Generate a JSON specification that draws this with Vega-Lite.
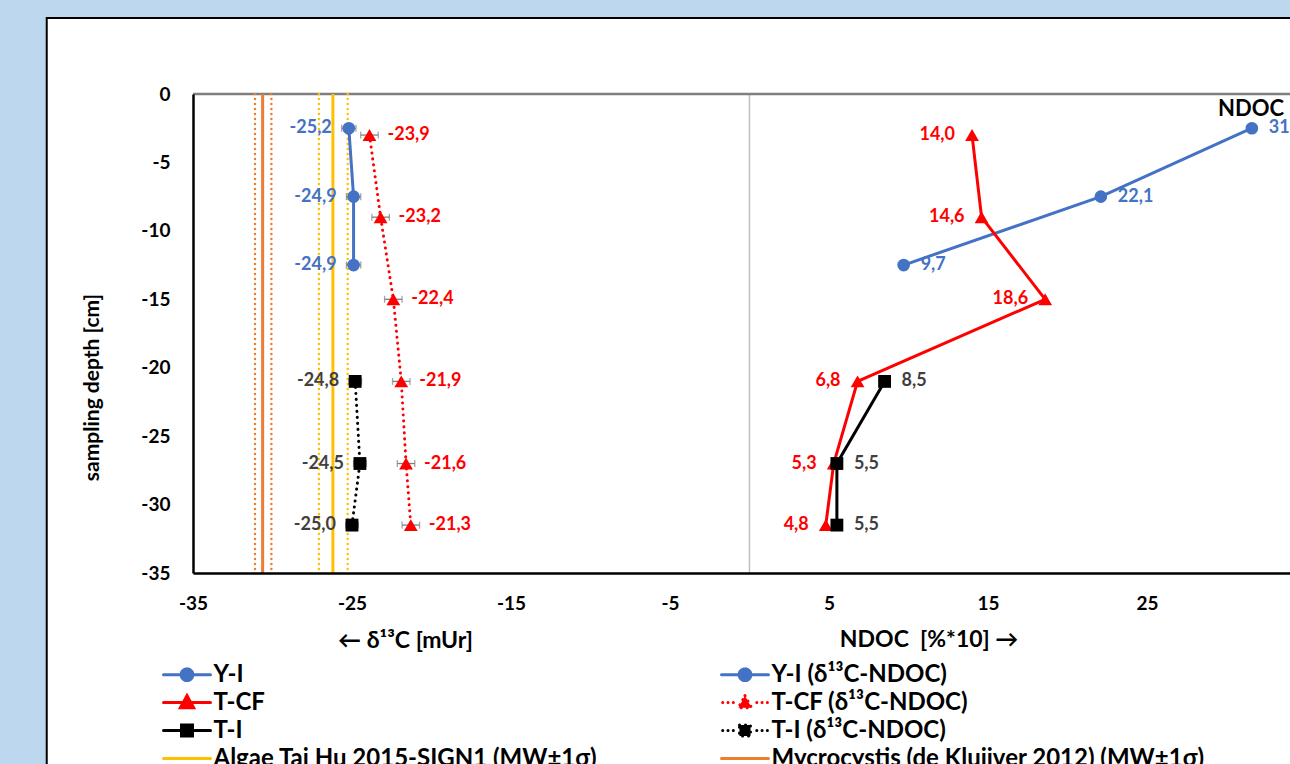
{
  "$schema": "https://vega.github.io/schema/vega-lite/v6.json",
  "width": 1097,
  "height": 479,
  "autosize": {"type": "none"},
  "padding": {"left": 193, "top": 94, "right": 0, "bottom": 191},
  "background": "#BDD7EE",
  "config": {
    "font": "Lato",
    "locale": {"number": {"decimal": ",", "thousands": ".", "grouping": [3], "currency": ["", ""], "minus": "-"}},
    "view": {"stroke": null, "fill": null}
  },
  "data": {
    "values": [
      {"series": "Y-I (δ¹³C-NDOC)", "group": "Y-I", "kind": "d13C", "depth": -2.5, "value": -25.2, "err": 0.45},
      {"series": "Y-I (δ¹³C-NDOC)", "group": "Y-I", "kind": "d13C", "depth": -7.5, "value": -24.9, "err": 0.45},
      {"series": "Y-I (δ¹³C-NDOC)", "group": "Y-I", "kind": "d13C", "depth": -12.5, "value": -24.9, "err": 0.45},
      {"series": "T-CF (δ¹³C-NDOC)", "group": "T-CF", "kind": "d13C", "depth": -3, "value": -23.9, "err": 0.55},
      {"series": "T-CF (δ¹³C-NDOC)", "group": "T-CF", "kind": "d13C", "depth": -9, "value": -23.2, "err": 0.55},
      {"series": "T-CF (δ¹³C-NDOC)", "group": "T-CF", "kind": "d13C", "depth": -15, "value": -22.4, "err": 0.55},
      {"series": "T-CF (δ¹³C-NDOC)", "group": "T-CF", "kind": "d13C", "depth": -21, "value": -21.9, "err": 0.55},
      {"series": "T-CF (δ¹³C-NDOC)", "group": "T-CF", "kind": "d13C", "depth": -27, "value": -21.6, "err": 0.55},
      {"series": "T-CF (δ¹³C-NDOC)", "group": "T-CF", "kind": "d13C", "depth": -31.5, "value": -21.3, "err": 0.55},
      {"series": "T-I (δ¹³C-NDOC)", "group": "T-I", "kind": "d13C", "depth": -21, "value": -24.8, "err": 0.4},
      {"series": "T-I (δ¹³C-NDOC)", "group": "T-I", "kind": "d13C", "depth": -27, "value": -24.5, "err": 0.4},
      {"series": "T-I (δ¹³C-NDOC)", "group": "T-I", "kind": "d13C", "depth": -31.5, "value": -25.0, "err": 0.4},
      {"series": "Y-I", "group": "Y-I", "kind": "NDOC", "depth": -2.5, "value": 31.6},
      {"series": "Y-I", "group": "Y-I", "kind": "NDOC", "depth": -7.5, "value": 22.1},
      {"series": "Y-I", "group": "Y-I", "kind": "NDOC", "depth": -12.5, "value": 9.7},
      {"series": "T-CF", "group": "T-CF", "kind": "NDOC", "depth": -3, "value": 14.0},
      {"series": "T-CF", "group": "T-CF", "kind": "NDOC", "depth": -9, "value": 14.6},
      {"series": "T-CF", "group": "T-CF", "kind": "NDOC", "depth": -15, "value": 18.6},
      {"series": "T-CF", "group": "T-CF", "kind": "NDOC", "depth": -21, "value": 6.8},
      {"series": "T-CF", "group": "T-CF", "kind": "NDOC", "depth": -27, "value": 5.3},
      {"series": "T-CF", "group": "T-CF", "kind": "NDOC", "depth": -31.5, "value": 4.8},
      {"series": "T-I", "group": "T-I", "kind": "NDOC", "depth": -21, "value": 8.5},
      {"series": "T-I", "group": "T-I", "kind": "NDOC", "depth": -27, "value": 5.5},
      {"series": "T-I", "group": "T-I", "kind": "NDOC", "depth": -31.5, "value": 5.5},
      {"series": "Algae Tai Hu 2015-SIGN1 (MW±1σ)", "group": "Algae", "kind": "ref", "stat": "mean", "value": -26.2},
      {"series": "Algae Tai Hu 2015-SIGN1 (MW±1σ)", "group": "Algae", "kind": "ref", "stat": "lo", "value": -27.08},
      {"series": "Algae Tai Hu 2015-SIGN1 (MW±1σ)", "group": "Algae", "kind": "ref", "stat": "hi", "value": -25.27},
      {"series": "Mycrocystis (de Kluijver 2012) (MW±1σ)", "group": "Myc", "kind": "ref", "stat": "mean", "value": -30.62},
      {"series": "Mycrocystis (de Kluijver 2012) (MW±1σ)", "group": "Myc", "kind": "ref", "stat": "lo", "value": -31.1},
      {"series": "Mycrocystis (de Kluijver 2012) (MW±1σ)", "group": "Myc", "kind": "ref", "stat": "hi", "value": -30.07}
    ]
  },
  "layer": [
    {
      "data": {"values": [{}]},
      "mark": {"type": "rect", "fill": "white", "stroke": "black", "strokeWidth": 2},
      "encoding": {
        "x": {"datum": -44.2, "type": "quantitative", "title": "← δ¹³C [mUr]", "scale": {"domain": [-35, 34], "nice": false, "zero": false}},
        "x2": {"datum": 45},
        "y": {"datum": 5.55, "type": "quantitative", "title": "sampling depth [cm]", "scale": {"domain": [-35, 0], "nice": false, "zero": false}},
        "y2": {"datum": -60}
      }
    },
    {
      "data": {"values": [{}]},
      "mark": {"type": "rule", "color": "#BFBFBF", "strokeWidth": 1.5},
      "encoding": {
        "x": {"datum": 0, "type": "quantitative", "title": "← δ¹³C [mUr]", "scale": {"domain": [-35, 34], "nice": false, "zero": false}}
      }
    },
    {
      "data": {"values": [{}]},
      "mark": {"type": "rule", "color": "#7F7F7F", "strokeWidth": 2.5},
      "encoding": {
        "y": {"datum": 0, "type": "quantitative", "title": "sampling depth [cm]", "scale": {"domain": [-35, 0], "nice": false, "zero": false}}
      }
    },
    {
      "transform": [{"filter": "datum.kind == 'ref' && datum.stat == 'mean'"}],
      "mark": {"type": "rule", "strokeWidth": 3},
      "encoding": {
        "x": {"field": "value", "type": "quantitative", "title": "← δ¹³C [mUr]", "scale": {"domain": [-35, 34], "nice": false, "zero": false}},
        "color": {"field": "series", "type": "nominal",
          "scale": {"domain": ["Y-I", "T-CF", "T-I", "Algae Tai Hu 2015-SIGN1 (MW±1σ)", "Y-I (δ¹³C-NDOC)", "T-CF (δ¹³C-NDOC)", "T-I (δ¹³C-NDOC)", "Mycrocystis (de Kluijver 2012) (MW±1σ)"],
                    "range": ["#4472C4", "#FF0000", "#000000", "#FFC000", "#4472C4", "#FF0000", "#000000", "#ED7D31"]}}
      }
    },
    {
      "transform": [{"filter": "datum.kind == 'ref' && datum.stat != 'mean'"}],
      "mark": {"type": "rule", "strokeWidth": 2.5, "strokeDash": [0.1, 4.9], "strokeCap": "round"},
      "encoding": {
        "x": {"field": "value", "type": "quantitative", "title": "← δ¹³C [mUr]", "scale": {"domain": [-35, 34], "nice": false, "zero": false}},
        "color": {"field": "series", "type": "nominal",
          "scale": {"domain": ["Y-I", "T-CF", "T-I", "Algae Tai Hu 2015-SIGN1 (MW±1σ)", "Y-I (δ¹³C-NDOC)", "T-CF (δ¹³C-NDOC)", "T-I (δ¹³C-NDOC)", "Mycrocystis (de Kluijver 2012) (MW±1σ)"],
                    "range": ["#4472C4", "#FF0000", "#000000", "#FFC000", "#4472C4", "#FF0000", "#000000", "#ED7D31"]}}
      }
    },
    {
      "transform": [{"filter": "datum.kind == 'NDOC'"}],
      "mark": {"type": "line", "strokeWidth": 3},
      "encoding": {
        "x": {"field": "value", "type": "quantitative", "title": "← δ¹³C [mUr]", "scale": {"domain": [-35, 34], "nice": false, "zero": false},
          "axis": {"values": [-35, -25, -15, -5, 5, 15, 25], "title": "← δ¹³C [mUr]", "grid": false, "ticks": false, "tickSize": 0,
            "domainColor": "black", "domainWidth": 2.5, "labelFontSize": 19, "labelFontWeight": "bold", "labelColor": "black",
            "labelPadding": 21, "labelFlush": false, "titleFontSize": 23, "titleFontWeight": "bold", "titleColor": "black",
            "titleX": 212, "titleY": 67, "titleAlign": "center", "titleBaseline": "middle", "zindex": 2}},
        "y": {"field": "depth", "type": "quantitative", "title": "sampling depth [cm]", "scale": {"domain": [-35, 0], "nice": false, "zero": false},
          "axis": {"values": [0, -5, -10, -15, -20, -25, -30, -35], "title": "sampling depth [cm]", "grid": false, "ticks": false, "tickSize": 0,
            "domainColor": "black", "domainWidth": 2.5, "labelFontSize": 19, "labelFontWeight": "bold", "labelColor": "black",
            "labelPadding": 23, "titleFontSize": 21, "titleFontWeight": "bold", "titleColor": "black",
            "titleX": -101, "titleY": 293, "titleAlign": "center", "titleBaseline": "middle", "titleAngle": -90, "zindex": 2}},
        "order": {"field": "depth", "type": "quantitative", "sort": "descending"},
        "detail": {"field": "series"},
        "color": {"field": "series", "type": "nominal",
          "scale": {"domain": ["Y-I", "T-CF", "T-I", "Algae Tai Hu 2015-SIGN1 (MW±1σ)", "Y-I (δ¹³C-NDOC)", "T-CF (δ¹³C-NDOC)", "T-I (δ¹³C-NDOC)", "Mycrocystis (de Kluijver 2012) (MW±1σ)"],
                    "range": ["#4472C4", "#FF0000", "#000000", "#FFC000", "#4472C4", "#FF0000", "#000000", "#ED7D31"]}}
      }
    },
    {
      "transform": [{"filter": "datum.kind == 'd13C'"}],
      "mark": {"type": "line", "strokeWidth": 3, "strokeCap": "round"},
      "encoding": {
        "x": {"field": "value", "type": "quantitative", "title": "← δ¹³C [mUr]", "scale": {"domain": [-35, 34], "nice": false, "zero": false}},
        "y": {"field": "depth", "type": "quantitative", "title": "sampling depth [cm]", "scale": {"domain": [-35, 0], "nice": false, "zero": false}},
        "order": {"field": "depth", "type": "quantitative", "sort": "descending"},
        "detail": {"field": "series"},
        "color": {"field": "series", "type": "nominal",
          "scale": {"domain": ["Y-I", "T-CF", "T-I", "Algae Tai Hu 2015-SIGN1 (MW±1σ)", "Y-I (δ¹³C-NDOC)", "T-CF (δ¹³C-NDOC)", "T-I (δ¹³C-NDOC)", "Mycrocystis (de Kluijver 2012) (MW±1σ)"],
                    "range": ["#4472C4", "#FF0000", "#000000", "#FFC000", "#4472C4", "#FF0000", "#000000", "#ED7D31"]}},
        "strokeDash": {"field": "series", "type": "nominal", "legend": null,
          "scale": {"domain": ["Y-I", "T-CF", "T-I", "Algae Tai Hu 2015-SIGN1 (MW±1σ)", "Y-I (δ¹³C-NDOC)", "T-CF (δ¹³C-NDOC)", "T-I (δ¹³C-NDOC)", "Mycrocystis (de Kluijver 2012) (MW±1σ)"],
                    "range": [[1, 0], [1, 0], [1, 0], [1, 0], [1, 0], [0.1, 5.9], [0.1, 5.9], [1, 0]]}}
      }
    },
    {
      "transform": [{"filter": "datum.kind == 'd13C'"}],
      "mark": {"type": "errorbar", "color": "#7F7F7F", "thickness": 1.3, "ticks": {"size": 7, "thickness": 1.3}},
      "encoding": {
        "x": {"field": "value", "type": "quantitative", "title": "← δ¹³C [mUr]", "scale": {"domain": [-35, 34], "nice": false, "zero": false}},
        "xError": {"field": "err"},
        "y": {"field": "depth", "type": "quantitative", "title": "sampling depth [cm]", "scale": {"domain": [-35, 0], "nice": false, "zero": false}}
      }
    },
    {
      "transform": [{"filter": "datum.group == 'Y-I' && datum.kind != 'ref'"}],
      "mark": {"type": "point", "shape": "circle", "filled": true, "opacity": 1, "size": 160},
      "encoding": {
        "x": {"field": "value", "type": "quantitative", "title": "← δ¹³C [mUr]", "scale": {"domain": [-35, 34], "nice": false, "zero": false}},
        "y": {"field": "depth", "type": "quantitative", "title": "sampling depth [cm]", "scale": {"domain": [-35, 0], "nice": false, "zero": false}},
        "color": {"field": "series", "type": "nominal",
          "scale": {"domain": ["Y-I", "T-CF", "T-I", "Algae Tai Hu 2015-SIGN1 (MW±1σ)", "Y-I (δ¹³C-NDOC)", "T-CF (δ¹³C-NDOC)", "T-I (δ¹³C-NDOC)", "Mycrocystis (de Kluijver 2012) (MW±1σ)"],
                    "range": ["#4472C4", "#FF0000", "#000000", "#FFC000", "#4472C4", "#FF0000", "#000000", "#ED7D31"]}}
      }
    },
    {
      "transform": [{"filter": "datum.group == 'T-CF' && datum.kind != 'ref'"}],
      "mark": {"type": "point", "shape": "triangle-up", "filled": true, "opacity": 1, "size": 190},
      "encoding": {
        "x": {"field": "value", "type": "quantitative", "title": "← δ¹³C [mUr]", "scale": {"domain": [-35, 34], "nice": false, "zero": false}},
        "y": {"field": "depth", "type": "quantitative", "title": "sampling depth [cm]", "scale": {"domain": [-35, 0], "nice": false, "zero": false}},
        "color": {"field": "series", "type": "nominal",
          "scale": {"domain": ["Y-I", "T-CF", "T-I", "Algae Tai Hu 2015-SIGN1 (MW±1σ)", "Y-I (δ¹³C-NDOC)", "T-CF (δ¹³C-NDOC)", "T-I (δ¹³C-NDOC)", "Mycrocystis (de Kluijver 2012) (MW±1σ)"],
                    "range": ["#4472C4", "#FF0000", "#000000", "#FFC000", "#4472C4", "#FF0000", "#000000", "#ED7D31"]}}
      }
    },
    {
      "transform": [{"filter": "datum.group == 'T-I' && datum.kind != 'ref'"}],
      "mark": {"type": "point", "shape": "square", "filled": true, "opacity": 1, "size": 165},
      "encoding": {
        "x": {"field": "value", "type": "quantitative", "title": "← δ¹³C [mUr]", "scale": {"domain": [-35, 34], "nice": false, "zero": false}},
        "y": {"field": "depth", "type": "quantitative", "title": "sampling depth [cm]", "scale": {"domain": [-35, 0], "nice": false, "zero": false}},
        "color": {"field": "series", "type": "nominal",
          "scale": {"domain": ["Y-I", "T-CF", "T-I", "Algae Tai Hu 2015-SIGN1 (MW±1σ)", "Y-I (δ¹³C-NDOC)", "T-CF (δ¹³C-NDOC)", "T-I (δ¹³C-NDOC)", "Mycrocystis (de Kluijver 2012) (MW±1σ)"],
                    "range": ["#4472C4", "#FF0000", "#000000", "#FFC000", "#4472C4", "#FF0000", "#000000", "#ED7D31"]}}
      }
    },
    {
      "transform": [{"filter": "datum.kind == 'd13C' && datum.group == 'Y-I'"}],
      "mark": {"type": "text", "align": "right", "baseline": "middle", "dx": -17, "fontSize": 18, "fontWeight": "bold", "color": "#4472C4"},
      "encoding": {
        "x": {"field": "value", "type": "quantitative", "title": "← δ¹³C [mUr]", "scale": {"domain": [-35, 34], "nice": false, "zero": false}},
        "y": {"field": "depth", "type": "quantitative", "title": "sampling depth [cm]", "scale": {"domain": [-35, 0], "nice": false, "zero": false}},
        "text": {"field": "value", "type": "quantitative", "format": ".1f"}
      }
    },
    {
      "transform": [{"filter": "datum.kind == 'd13C' && datum.group == 'T-I'"}],
      "mark": {"type": "text", "align": "right", "baseline": "middle", "dx": -16, "fontSize": 18, "fontWeight": "bold", "color": "#404040"},
      "encoding": {
        "x": {"field": "value", "type": "quantitative", "title": "← δ¹³C [mUr]", "scale": {"domain": [-35, 34], "nice": false, "zero": false}},
        "y": {"field": "depth", "type": "quantitative", "title": "sampling depth [cm]", "scale": {"domain": [-35, 0], "nice": false, "zero": false}},
        "text": {"field": "value", "type": "quantitative", "format": ".1f"}
      }
    },
    {
      "transform": [{"filter": "datum.kind == 'd13C' && datum.group == 'T-CF'"}],
      "mark": {"type": "text", "align": "left", "baseline": "middle", "dx": 18, "fontSize": 18, "fontWeight": "bold", "color": "#FF0000"},
      "encoding": {
        "x": {"field": "value", "type": "quantitative", "title": "← δ¹³C [mUr]", "scale": {"domain": [-35, 34], "nice": false, "zero": false}},
        "y": {"field": "depth", "type": "quantitative", "title": "sampling depth [cm]", "scale": {"domain": [-35, 0], "nice": false, "zero": false}},
        "text": {"field": "value", "type": "quantitative", "format": ".1f"}
      }
    },
    {
      "transform": [{"filter": "datum.kind == 'NDOC' && datum.group == 'T-CF'"}],
      "mark": {"type": "text", "align": "right", "baseline": "middle", "dx": -17, "fontSize": 18, "fontWeight": "bold", "color": "#FF0000"},
      "encoding": {
        "x": {"field": "value", "type": "quantitative", "title": "← δ¹³C [mUr]", "scale": {"domain": [-35, 34], "nice": false, "zero": false}},
        "y": {"field": "depth", "type": "quantitative", "title": "sampling depth [cm]", "scale": {"domain": [-35, 0], "nice": false, "zero": false}},
        "text": {"field": "value", "type": "quantitative", "format": ".1f"}
      }
    },
    {
      "transform": [{"filter": "datum.kind == 'NDOC' && datum.group == 'Y-I'"}],
      "mark": {"type": "text", "align": "left", "baseline": "middle", "dx": 17, "fontSize": 18, "fontWeight": "bold", "color": "#4472C4"},
      "encoding": {
        "x": {"field": "value", "type": "quantitative", "title": "← δ¹³C [mUr]", "scale": {"domain": [-35, 34], "nice": false, "zero": false}},
        "y": {"field": "depth", "type": "quantitative", "title": "sampling depth [cm]", "scale": {"domain": [-35, 0], "nice": false, "zero": false}},
        "text": {"field": "value", "type": "quantitative", "format": ".1f"}
      }
    },
    {
      "transform": [{"filter": "datum.kind == 'NDOC' && datum.group == 'T-I'"}],
      "mark": {"type": "text", "align": "left", "baseline": "middle", "dx": 17, "fontSize": 18, "fontWeight": "bold", "color": "#404040"},
      "encoding": {
        "x": {"field": "value", "type": "quantitative", "title": "← δ¹³C [mUr]", "scale": {"domain": [-35, 34], "nice": false, "zero": false}},
        "y": {"field": "depth", "type": "quantitative", "title": "sampling depth [cm]", "scale": {"domain": [-35, 0], "nice": false, "zero": false}},
        "text": {"field": "value", "type": "quantitative", "format": ".1f"}
      }
    },
    {
      "data": {"values": [{}]},
      "mark": {"type": "text", "align": "left", "baseline": "middle", "fontSize": 22, "fontWeight": "bold", "color": "black", "text": "NDOC"},
      "encoding": {
        "x": {"datum": 29.47, "type": "quantitative", "title": "← δ¹³C [mUr]", "scale": {"domain": [-35, 34], "nice": false, "zero": false}},
        "y": {"datum": -1.1, "type": "quantitative", "title": "sampling depth [cm]", "scale": {"domain": [-35, 0], "nice": false, "zero": false}}
      }
    },
    {
      "data": {"values": [{}]},
      "mark": {"type": "text", "align": "center", "baseline": "middle", "fontSize": 23, "fontWeight": "bold", "color": "black", "text": "NDOC \u00a0[%*10] →"},
      "encoding": {
        "x": {"datum": 11.3, "type": "quantitative", "title": "← δ¹³C [mUr]", "scale": {"domain": [-35, 34], "nice": false, "zero": false}},
        "y": {"datum": -39.9, "type": "quantitative", "title": "sampling depth [cm]", "scale": {"domain": [-35, 0], "nice": false, "zero": false}}
      }
    },
    {
      "transform": [{"filter": "datum.kind == 'legendonly'"}],
      "mark": {"type": "point", "filled": true, "opacity": 1},
      "encoding": {
        "x": {"field": "value", "type": "quantitative", "title": "← δ¹³C [mUr]", "scale": {"domain": [-35, 34], "nice": false, "zero": false}},
        "y": {"field": "depth", "type": "quantitative", "title": "sampling depth [cm]", "scale": {"domain": [-35, 0], "nice": false, "zero": false}},
        "color": {"field": "series", "type": "nominal",
          "scale": {"domain": ["Y-I", "T-CF", "T-I", "Algae Tai Hu 2015-SIGN1 (MW±1σ)", "Y-I (δ¹³C-NDOC)", "T-CF (δ¹³C-NDOC)", "T-I (δ¹³C-NDOC)", "Mycrocystis (de Kluijver 2012) (MW±1σ)"],
                    "range": ["#4472C4", "#FF0000", "#000000", "#FFC000", "#4472C4", "#FF0000", "#000000", "#ED7D31"]},
          "legend": {"title": null, "orient": "none", "legendX": -19.5, "legendY": 567, "columns": 2, "columnPadding": 118, "rowPadding": 2,
            "padding": 0, "symbolSize": 552, "symbolStrokeWidth": 3, "labelOffset": 13, "labelFontSize": 24, "labelFontWeight": "bold",
            "labelColor": "black", "labelLimit": 0, "symbolOpacity": 1, "zindex": 3,
            "encode": {"symbols": {"update": {"fill": {"scale": "color", "field": "value"}, "stroke": {"scale": "color", "field": "value"}, "strokeWidth": {"value": 3}, "strokeCap": {"value": "round"}, "strokeDash": {"value": [1, 0]}, "opacity": {"value": 1}}}}}},
        "shape": {"field": "series", "type": "nominal",
          "scale": {"domain": ["Y-I", "T-CF", "T-I", "Algae Tai Hu 2015-SIGN1 (MW±1σ)", "Y-I (δ¹³C-NDOC)", "T-CF (δ¹³C-NDOC)", "T-I (δ¹³C-NDOC)", "Mycrocystis (de Kluijver 2012) (MW±1σ)"],
                    "range": ["M-2,0H2M-0.5,0A0.5,0.5,0,1,1,0.5,0A0.5,0.5,0,1,1,-0.5,0Z",
                              "M-2,0H2M0,-0.58L0.56,0.44L-0.56,0.44Z",
                              "M-2,0H2M-0.47,-0.47H0.47V0.47H-0.47Z",
                              "M-2,0H2",
                              "M-2,0H2M-0.5,0A0.5,0.5,0,1,1,0.5,0A0.5,0.5,0,1,1,-0.5,0Z",
                              "M-1.9,0h0.01M-1.45,0h0.01M-1,0h0.01M1,0h0.01M1.45,0h0.01M1.9,0h0.01M0,-0.58L0.56,0.44L-0.56,0.44Z",
                              "M-1.9,0h0.01M-1.45,0h0.01M-1,0h0.01M1,0h0.01M1.45,0h0.01M1.9,0h0.01M-0.47,-0.47H0.47V0.47H-0.47Z",
                              "M-2,0H2"]}}
      }
    }
  ]
}
